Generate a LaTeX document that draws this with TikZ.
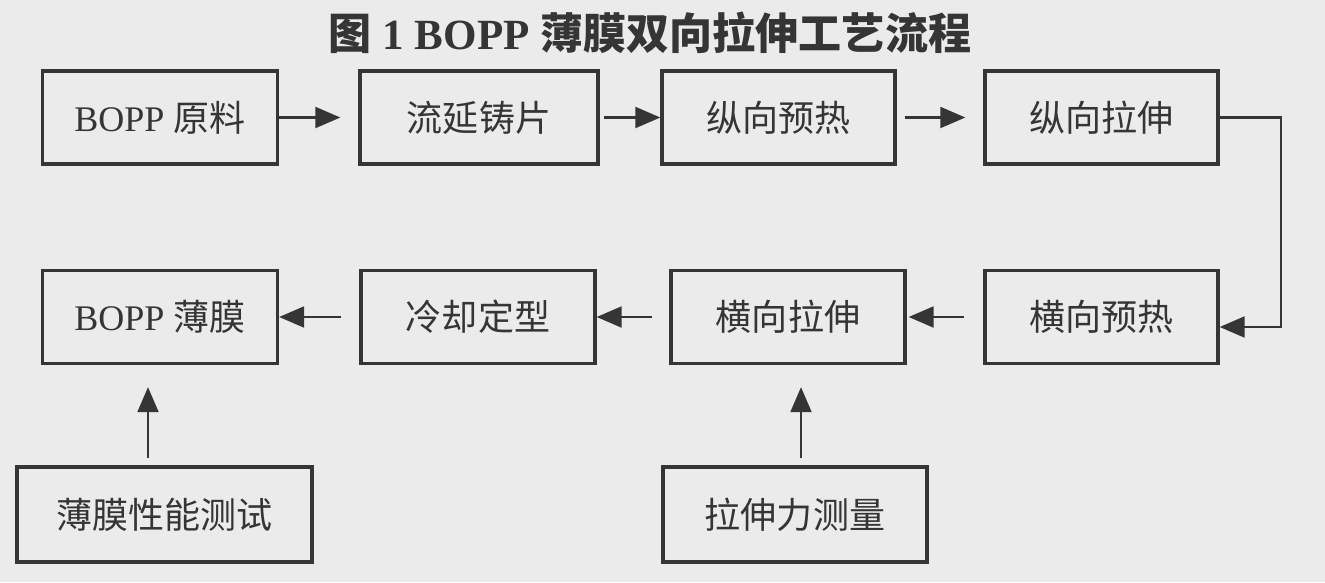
\documentclass[tikz,border=0pt]{standalone}
\usepackage{fontspec}
\setmainfont{Liberation Serif}
\newfontfamily\cjk{Noto Sans CJK SC}
\usetikzlibrary{arrows.meta}
\definecolor{paper}{HTML}{EBEBEB}
\definecolor{ink}{HTML}{353535}
\tikzset{
  procbox/.style={draw=ink, line width=1.9pt, minimum width=47mm, minimum height=18.6mm,
    inner sep=0pt, text=ink, font=\fontsize{20.5}{24}\selectfont},
  flow/.style={draw=ink, line width=1.2pt, -{Triangle[length=5mm,width=4.2mm]}}
}
\begin{document}
\begin{tikzpicture}[x=0.2mm,y=-0.2mm]
    \useasboundingbox[fill=paper] (0,0) rectangle (1325,582);
    \node[text=ink, font=\fontsize{24.5}{28}\selectfont\bfseries] (title) at (650,33) {{\cjk 图} 1 BOPP {\cjk 薄膜双向拉伸工艺流程}};
    % first row
    \node[procbox] (raw) at (160,117.5) {BOPP {\cjk 原料}};
    \node[procbox, minimum width=47.6mm] (cast) at (479,117.5) {\cjk 流延铸片};
    \node[procbox, minimum width=46.6mm] (mpreheat) at (778.5,117.5) {\cjk 纵向预热};
    \node[procbox, minimum width=46.6mm] (mstretch) at (1101.5,117.5) {\cjk 纵向拉伸};
    % second row
    \node[procbox, minimum width=46.6mm] (tpreheat) at (1101.5,317) {\cjk 横向预热};
    \node[procbox, minimum width=46.8mm] (tstretch) at (788,317) {\cjk 横向拉伸};
    \node[procbox, minimum width=46.8mm] (cool) at (478,317) {\cjk 冷却定型};
    \node[procbox] (film) at (160,317) {BOPP {\cjk 薄膜}};
    % third row
    \node[procbox, minimum width=59mm, minimum height=19mm] (test) at (164.5,514.5) {\cjk 薄膜性能测试};
    \node[procbox, minimum width=52.8mm, minimum height=19mm] (measure) at (795,514.5) {\cjk 拉伸力测量};
    \draw[flow, shorten >=3.6mm] (raw) -- (cast);
    \draw[flow, shorten <=0.8mm] (cast) -- (mpreheat);
    \draw[flow, shorten <=1.6mm, shorten >=3.6mm] (mpreheat) -- (mstretch);
    \draw[flow] (mstretch.east) -- ++(61,0) |- ([yshift=-2mm]tpreheat.east);
    \draw[flow, shorten <=3.8mm, shorten >=0.4mm] (tpreheat) -- (tstretch);
    \draw[flow, shorten <=3.4mm] (tstretch) -- (cool);
    \draw[flow, shorten <=3.6mm] (cool) -- (film);
    \draw[flow, shorten <=1.4mm, shorten >=4.4mm] ([xshift=-2.4mm]film.south |- test.north) -- ([xshift=-2.4mm]film.south);
    \draw[flow, shorten <=1.4mm, shorten >=4.4mm] ([xshift=1.2mm]measure.north) -- ([xshift=1.2mm]measure.north |- tstretch.south);
\end{tikzpicture}
\end{document}
